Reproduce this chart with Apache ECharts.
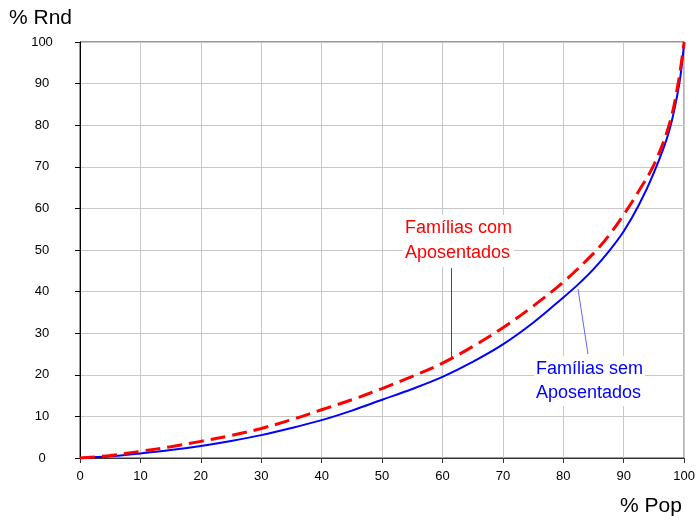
<!DOCTYPE html>
<html>
<head>
<meta charset="utf-8">
<script src="https://cdn.jsdelivr.net/npm/echarts@6/dist/echarts.min.js"></script>
<style>
  html, body { margin: 0; padding: 0; background: #fff; }
  #chart { width: 698px; height: 520px; }
</style>
</head>
<body>
<div id="chart"></div>
<script>
// % população (x) e % renda (y) - curvas de Lorenz
var popSem = [0, 5, 10, 15, 20, 25, 30, 35, 40, 45, 50, 55, 60, 65, 70, 75, 80, 82.5, 85, 87.5, 90, 92.5, 95, 97.5, 99.2, 100];
var rndSem = [0, 0.4, 1.1, 1.9, 2.9, 4.1, 5.5, 7.2, 9.1, 11.4, 14.0, 16.6, 19.5, 23.1, 27.3, 32.5, 38.6, 41.8, 45.4, 49.6, 54.5, 60.8, 68.6, 78.5, 90, 100];

var popCom = [0, 5, 10, 15, 20, 25, 30, 35, 40, 45, 50, 55, 60, 65, 70, 75, 80, 85, 87.5, 90, 92.5, 95, 97.5, 99, 100];
var rndCom = [0, 0.6, 1.6, 2.7, 4.0, 5.4, 7.1, 9.2, 11.6, 14.0, 16.7, 19.6, 22.8, 26.8, 31.3, 36.5, 42.3, 49.2, 53.4, 58.5, 64.2, 70.5, 80, 90, 100];

var axisTicks = [0, 10, 20, 30, 40, 50, 60, 70, 80, 90, 100];

function pairs(xs, ys) {
    var out = [];
    for (var i = 0; i < xs.length; i++) {
        out.push([xs[i], ys[i]]);
    }
    return out;
}

var chart = echarts.init(document.getElementById('chart'));
var font = 'Liberation Sans, Arial, sans-serif';

var option = {
    animation: false,
    grid: {
        left: 80,
        right: 13,
        top: 42,
        bottom: 62,
        show: true,
        borderColor: '#333',
        borderWidth: 1
    },
    xAxis: {
        type: 'value',
        min: axisTicks[0],
        max: axisTicks[axisTicks.length - 1],
        interval: 10,
        axisLine: { show: true, lineStyle: { color: '#333' } },
        axisTick: { show: true, length: 5, lineStyle: { color: '#333' } },
        axisLabel: { color: '#000', fontSize: 13, fontFamily: font, margin: 12 },
        splitLine: { show: true, lineStyle: { color: '#c8c8c8' } }
    },
    yAxis: {
        type: 'value',
        min: axisTicks[0],
        max: axisTicks[axisTicks.length - 1],
        interval: 10,
        axisLine: { show: true, lineStyle: { color: '#000' } },
        axisTick: { show: true, length: 5, lineStyle: { color: '#000' } },
        axisLabel: { color: '#000', fontSize: 13, fontFamily: font, margin: 38, align: 'center' },
        splitLine: { show: true, lineStyle: { color: '#c8c8c8' } }
    },
    series: [
        {
            name: 'Famílias sem Aposentados',
            type: 'line',
            data: pairs(popSem, rndSem),
            smooth: 0.35,
            showSymbol: false,
            lineStyle: { color: '#0000ff', width: 2 },
            z: 3
        },
        {
            name: 'Famílias com Aposentados',
            type: 'line',
            data: pairs(popCom, rndCom),
            smooth: 0.35,
            showSymbol: false,
            lineStyle: { color: '#ff0000', width: 3, type: [15, 7] },
            z: 4
        }
    ],
    graphic: [
        { type: 'text', left: 9, top: 8, style: { text: '% Rnd', fontSize: 21, fontFamily: font, fill: '#000' } },
        { type: 'text', left: 620, top: 496, style: { text: '% Pop', fontSize: 21, fontFamily: font, fill: '#000' } },
        // anotações (fundo branco esconde a grade)
        { type: 'text', left: 403, top: 215, z: 20, style: { text: 'Famílias com\nAposentados', fontSize: 18, lineHeight: 25, fontFamily: font, fill: '#ff0000', backgroundColor: '#fff', padding: [1, 2] } },
        { type: 'line', shape: { x1: 451.5, y1: 268, x2: 451.5, y2: 358 }, style: { stroke: '#ff0000', lineWidth: 1 }, z: 10 },
        { type: 'text', left: 534, top: 356, z: 20, style: { text: 'Famílias sem\nAposentados', fontSize: 18, lineHeight: 24, fontFamily: font, fill: '#0000ff', backgroundColor: '#fff', padding: [1, 2] } },
        { type: 'line', shape: { x1: 578, y1: 289, x2: 588, y2: 354 }, style: { stroke: '#6666ff', lineWidth: 1 }, z: 10 }
    ]
};

chart.setOption(option);
</script>
</body>
</html>
